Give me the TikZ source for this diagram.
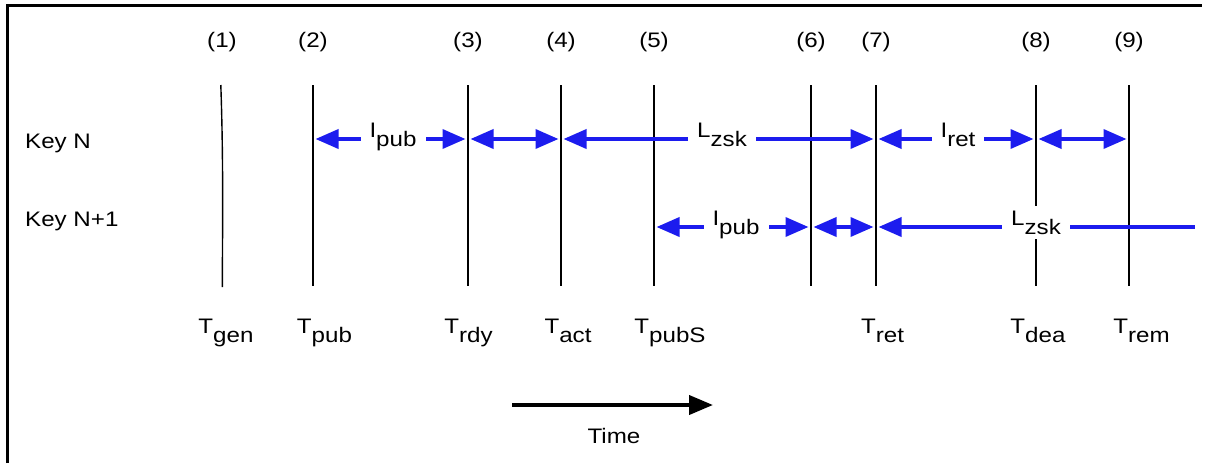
\documentclass[tikz,border=0pt]{standalone}
\usepackage{fontspec}
\setmainfont{Liberation Sans}[FakeStretch=1.15]
\usetikzlibrary{arrows.meta}
\definecolor{arrblue}{RGB}{28,28,238}
\newcommand\lowsub[1]{\raisebox{-9pt}{#1}}
\begin{document}
\begin{tikzpicture}[x=1pt,y=-1pt,
  font=\fontsize{21}{25}\selectfont,
  vline/.style={line width=1.4pt},
  barr/.style={arrblue, line width=3.6pt, >={Triangle[length=23pt,width=19pt]}},
  lab/.style={anchor=base, fill=white, inner xsep=9pt, inner ysep=5pt},
  txt/.style={anchor=base, inner sep=0pt},
  frame/.style={line width=3pt}]
\useasboundingbox (0,0) rectangle (1207,463);
% frame
\coordinate (fbl) at (7,463);
\coordinate (ftl) at (7,5);
\coordinate (ftr) at (1201.5,5);
\draw[frame] (fbl) -- (ftl) -- (ftr);
% numbers
\foreach \i/\x in {1/222,2/313,3/468,4/561,5/654,6/811,7/876,8/1036,9/1129}{
  \node[txt] (n\i) at (\x,47) {(\i)};
}
% key labels
\node[txt, anchor=base west] (keyn) at (25,148) {Key N};
\node[txt, anchor=base west] (keyn1) at (25,226.5) {Key N+1};
% vertical lines
\coordinate (top1) at (220.8,85);
\coordinate (bot1) at (222.3,287);
\draw[vline] (top1) .. controls (223.5,160) and (222.5,230) .. (bot1);
\foreach \i/\x in {2/313,3/468,4/561,5/654,6/811,7/876,8/1036,9/1129}{
  \coordinate (top\i) at (\x,85);
  \coordinate (bot\i) at (\x,286);
  \draw[vline] (top\i) -- (bot\i);
}
% row crossing points
\foreach \i/\x in {2/313,3/468,4/561,5/654,6/811,7/876,8/1036,9/1129}{
  \coordinate (a\i) at (\x,139);
  \coordinate (b\i) at (\x,227);
}
\coordinate (bend) at (1195,227);
% row 1 arrows
\draw[barr,<->] ([xshift=2.5pt]a2) -- ([xshift=-2.5pt]a3);
\draw[barr,<->] ([xshift=2.5pt]a3) -- ([xshift=-2.5pt]a4);
\draw[barr,<->] ([xshift=2.5pt]a4) -- ([xshift=-2.5pt]a7);
\draw[barr,<->] ([xshift=2.5pt]a7) -- ([xshift=-2.5pt]a8);
\draw[barr,<->] ([xshift=2.5pt]a8) -- ([xshift=-2.5pt]a9);
% row 2 arrows
\draw[barr,<->] ([xshift=2.5pt]b5) -- ([xshift=-2.5pt]b6);
\draw[barr,<->] ([xshift=2.5pt]b6) -- ([xshift=-2.5pt]b7);
\draw[barr,<-] ([xshift=2.5pt]b7) -- (bend);
% interval labels
\node[lab] (ipub1) at (393,137) {I\lowsub{pub}};
\node[lab] (lzsk1) at (722,137) {L\lowsub{zsk}};
\node[lab] (iret) at (958,137) {I\lowsub{ret}};
\node[lab] (ipub2) at (736,225) {I\lowsub{pub}};
\node[lab] (lzsk2) at (1036,225) {L\lowsub{zsk}};
% time labels
\foreach \n/\x/\s in {tgen/226/gen,tpub/324.5/pub,trdy/468.5/rdy,tact/568/act,tpubs/670/pubS,tret/882.5/ret,tdea/1038/dea,trem/1141.5/rem}{
  \node[txt] (\n) at (\x,333) {T\lowsub{\s}};
}
% time arrow
\coordinate (ts) at (512,405);
\coordinate (te) at (713,405);
\draw[line width=4pt, -{Triangle[length=24pt,width=19pt]}] (ts) -- (te);
\node[txt] (time) at (614,443) {Time};
\end{tikzpicture}
\end{document}
